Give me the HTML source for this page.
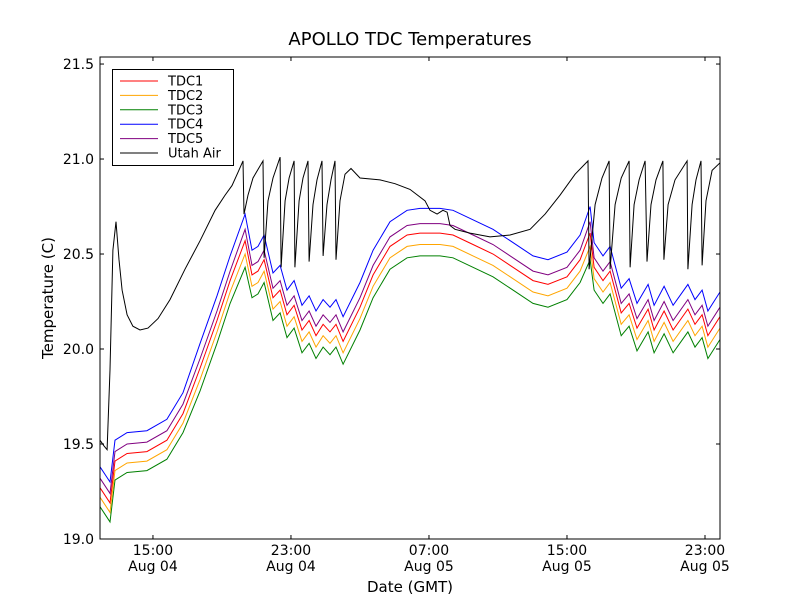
<!DOCTYPE html>
<html><head><meta charset="utf-8"><style>
body{margin:0;background:#fff;}
svg text{font-family:"DejaVu Sans","Liberation Sans",sans-serif;fill:#000;}
</style></head><body>
<svg id="chart" width="800" height="600" xmlns="http://www.w3.org/2000/svg">
<rect width="800" height="600" fill="#fff"/>
<defs><clipPath id="pc"><rect x="100" y="57" width="620" height="482"/></clipPath></defs>
<text x="410" y="45" font-size="18" text-anchor="middle">APOLLO TDC Temperatures</text>
<text x="410" y="592" font-size="15" text-anchor="middle">Date (GMT)</text>
<text transform="translate(53,298) rotate(-90)" font-size="15" text-anchor="middle">Temperature (C)</text>
<g id="series" clip-path="url(#pc)"></g>
<g id="axes"></g>
<rect x="100" y="57" width="620" height="482" fill="none" stroke="#000" stroke-width="1"/>
<g id="legend"></g>
</svg>
<script>
const seriesNames = ["TDC1","TDC2","TDC3","TDC4","TDC5","Utah Air"];
const seriesColors = ["#ff0000","#ffa500","#008000","#0000ff","#800080","#000000"];
const yTicks = [19.0,19.5,20.0,20.5,21.0,21.5];
const xTickHours = [3,11,19,27,35];
const xTickLabels1 = ["15:00","23:00","07:00","15:00","23:00"];
const xTickLabels2 = ["Aug 04","Aug 04","Aug 05","Aug 05","Aug 05"];
const tdcHours = [-0.07,0.22,0.51,0.80,1.50,2.65,3.81,4.74,5.73,6.71,7.47,8.34,8.74,9.09,9.44,9.96,10.37,10.77,11.18,11.64,12.05,12.45,12.86,13.26,13.61,14.02,15.00,15.76,16.74,17.73,18.48,19.64,20.39,21.55,22.71,23.87,25.03,25.90,27.00,27.76,28.34,28.57,29.09,29.50,30.14,30.60,31.06,31.70,32.05,32.63,33.15,34.01,34.42,34.83,35.17,35.87];
const tdc1 = [19.27,19.23,19.19,19.41,19.45,19.46,19.52,19.66,19.90,20.15,20.36,20.57,20.39,20.41,20.47,20.27,20.31,20.18,20.23,20.10,20.15,20.07,20.13,20.09,20.13,20.04,20.22,20.39,20.54,20.60,20.61,20.61,20.60,20.55,20.50,20.43,20.36,20.34,20.38,20.47,20.61,20.43,20.36,20.41,20.19,20.24,20.11,20.21,20.10,20.20,20.10,20.21,20.13,20.18,20.07,20.17];
const tdc2 = [19.22,19.18,19.14,19.36,19.40,19.41,19.47,19.61,19.84,20.09,20.30,20.50,20.33,20.35,20.41,20.21,20.25,20.12,20.17,20.04,20.09,20.01,20.07,20.03,20.07,19.98,20.16,20.33,20.48,20.54,20.55,20.55,20.54,20.49,20.44,20.37,20.30,20.28,20.32,20.41,20.54,20.37,20.30,20.35,20.13,20.18,20.05,20.15,20.04,20.14,20.04,20.15,20.07,20.12,20.01,20.11];
const tdc3 = [19.17,19.13,19.09,19.31,19.35,19.36,19.42,19.56,19.78,20.03,20.24,20.43,20.27,20.29,20.35,20.15,20.19,20.06,20.11,19.98,20.03,19.95,20.01,19.97,20.01,19.92,20.10,20.27,20.42,20.48,20.49,20.49,20.48,20.43,20.38,20.31,20.24,20.22,20.26,20.35,20.47,20.31,20.24,20.29,20.07,20.12,19.99,20.09,19.98,20.08,19.98,20.09,20.01,20.06,19.95,20.05];
const tdc4 = [19.38,19.34,19.30,19.52,19.56,19.57,19.63,19.77,20.03,20.28,20.49,20.71,20.52,20.54,20.60,20.40,20.44,20.31,20.36,20.23,20.28,20.20,20.26,20.22,20.26,20.17,20.35,20.52,20.67,20.73,20.74,20.74,20.73,20.68,20.63,20.56,20.49,20.47,20.51,20.60,20.75,20.56,20.49,20.54,20.32,20.37,20.24,20.34,20.23,20.33,20.23,20.34,20.26,20.31,20.20,20.30];
const tdc5 = [19.32,19.28,19.24,19.46,19.50,19.51,19.57,19.71,19.95,20.20,20.41,20.63,20.44,20.46,20.52,20.32,20.36,20.23,20.28,20.15,20.20,20.12,20.18,20.14,20.18,20.09,20.27,20.44,20.59,20.65,20.66,20.66,20.65,20.60,20.55,20.48,20.41,20.39,20.43,20.52,20.67,20.48,20.41,20.46,20.24,20.29,20.16,20.26,20.15,20.25,20.15,20.26,20.18,20.23,20.12,20.22];
const airHours = [-0.07,0.16,0.34,0.51,0.68,0.86,1.03,1.21,1.50,1.84,2.25,2.71,3.29,3.99,4.86,5.73,6.60,7.18,7.58,7.93,8.22,8.28,8.51,8.80,9.38,9.44,9.67,9.96,10.37,10.43,10.66,10.89,11.18,11.23,11.47,11.70,11.99,12.05,12.28,12.51,12.80,12.86,13.09,13.32,13.55,13.61,13.84,14.13,14.48,15.00,16.16,17.03,17.90,18.77,19.06,19.47,19.81,20.05,20.22,20.51,21.38,22.54,23.70,24.86,25.73,26.60,27.47,28.22,28.28,28.63,29.03,29.44,29.50,29.79,30.14,30.60,30.66,30.89,31.18,31.53,31.64,31.87,32.16,32.56,32.62,32.86,33.26,33.96,34.01,34.25,34.48,34.77,34.83,35.06,35.41,35.87];
const airTemp = [19.52,19.49,19.47,19.89,20.52,20.67,20.47,20.31,20.18,20.12,20.10,20.11,20.16,20.26,20.42,20.57,20.73,20.81,20.86,20.93,20.99,20.71,20.81,20.90,20.99,20.48,20.78,20.90,21.01,20.43,20.78,20.90,20.99,20.43,20.78,20.90,20.99,20.46,20.76,20.89,20.99,20.49,20.76,20.89,20.99,20.47,20.78,20.92,20.95,20.90,20.89,20.87,20.84,20.78,20.73,20.71,20.73,20.72,20.65,20.63,20.61,20.59,20.60,20.63,20.71,20.81,20.92,20.99,20.42,20.76,20.90,20.99,20.42,20.76,20.90,20.99,20.43,20.76,20.89,20.99,20.46,20.76,20.89,20.99,20.47,20.76,20.89,20.99,20.42,20.76,20.89,20.99,20.44,20.78,20.94,20.98];

const X0=100,X1=720,Y0=539,Y1=57;
const xMin=-0.07,xMax=35.87,yMin=19.0,yMax=21.537;
function xs(h){return X0+(h-xMin)/(xMax-xMin)*(X1-X0);}
function ys(v){return Y0-(v-yMin)/(yMax-yMin)*(Y0-Y1);}
const NS="http://www.w3.org/2000/svg";
function mk(tag,attrs,parent){const e=document.createElementNS(NS,tag);for(const k in attrs)e.setAttribute(k,attrs[k]);parent.appendChild(e);return e;}
const sg=document.getElementById('series');
const tdcData=[tdc1,tdc2,tdc3,tdc4,tdc5];
const order=[2,1,0,4,3];
order.forEach(i=>{
  const pts=tdcHours.map((h,j)=>xs(h).toFixed(1)+","+ys(tdcData[i][j]).toFixed(1)).join(" ");
  const p=mk('polyline',{points:pts,fill:'none',stroke:seriesColors[i],'stroke-width':'1'},sg);
  
  
});
{
  const pts=airHours.map((h,j)=>xs(h).toFixed(1)+","+ys(airTemp[j]).toFixed(1)).join(" ");
  const p=mk('polyline',{points:pts,fill:'none',stroke:'#000','stroke-width':'1'},sg);
  
  
}
const ag=document.getElementById('axes');
yTicks.forEach(v=>{
  const y=ys(v);
  const t1=mk('line',{x1:X0,x2:X0+4,y1:y,y2:y,stroke:'#000'},ag);
  
  
  mk('line',{x1:X1,x2:X1-4,y1:y,y2:y,stroke:'#000'},ag);
  const t=mk('text',{x:X0-6,y:y+5,'font-size':'14','text-anchor':'end'},ag);
  t.textContent=v.toFixed(1);
  
  
});
xTickHours.forEach((h,i)=>{
  const x=xs(h);
  const t1=mk('line',{x1:x,x2:x,y1:Y0,y2:Y0-4,stroke:'#000'},ag);
  
  
  mk('line',{x1:x,x2:x,y1:Y1,y2:Y1+4,stroke:'#000'},ag);
  const a=mk('text',{x:x,y:555,'font-size':'14','text-anchor':'middle'},ag);
  a.textContent=xTickLabels1[i];
  
  
  const b=mk('text',{x:x,y:571,'font-size':'14','text-anchor':'middle'},ag);
  b.textContent=xTickLabels2[i];
  
  
});
const lg=document.getElementById('legend');
mk('rect',{x:112.5,y:69.5,width:121,height:96,fill:'#fff',stroke:'#000'},lg);
seriesNames.forEach((n,i)=>{
  const y=81+i*14.4;
  const g=mk('g',{},lg);
  
  
  mk('line',{x1:120,x2:158,y1:y,y2:y,stroke:seriesColors[i]},g);
  const t=mk('text',{x:168,y:y+4.5,'font-size':'13'},g);
  t.textContent=n;
});
</script>
</body></html>
